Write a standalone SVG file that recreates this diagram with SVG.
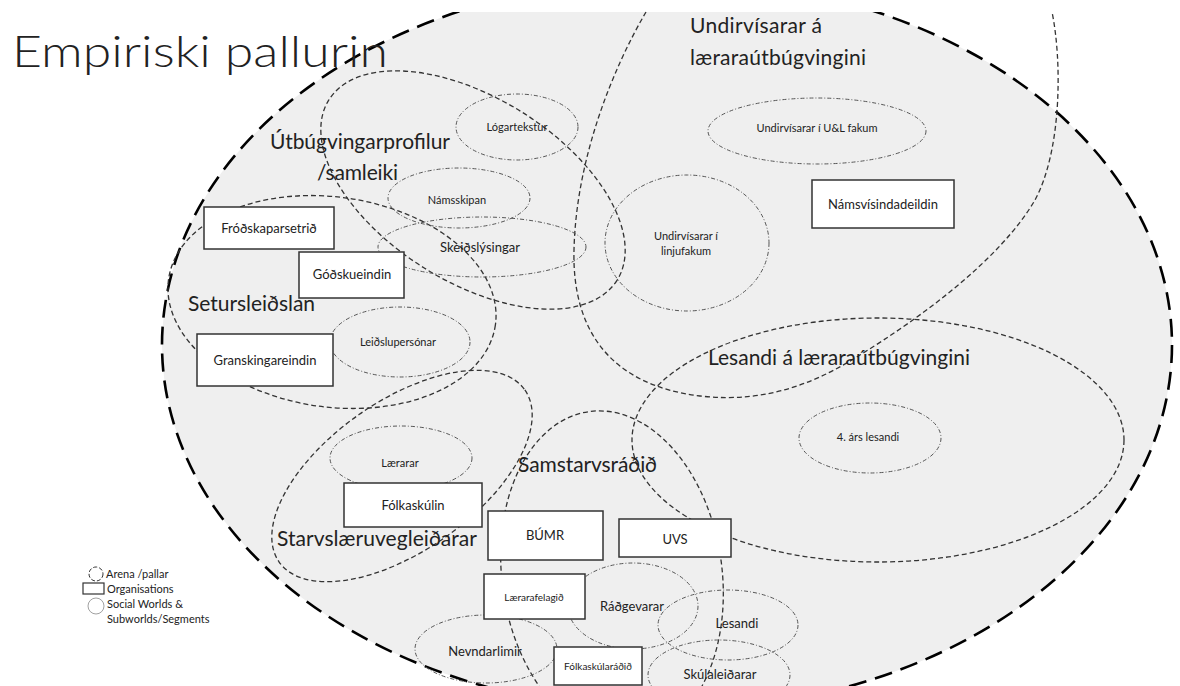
<svg xmlns="http://www.w3.org/2000/svg" width="1180" height="686" viewBox="0 0 1180 686">
<style>
.arena{fill:#efefef;stroke:#000;stroke-width:2.6;stroke-dasharray:18 9}
.world{fill:none;stroke:#333;stroke-width:1.3;stroke-dasharray:5 3}
.sub{fill:none;stroke:#555;stroke-width:1;stroke-dasharray:4 2 1 2}
.org{fill:#fff;stroke:#333;stroke-width:1.5}
text{font-family:Lato,"Open Sans","Liberation Sans",sans-serif;fill:#222}
.big{font-size:21px}
.mid{font-size:13px}
.sm{font-size:11px}
.xs{font-size:10px}
.c{text-anchor:middle}
</style>
<rect width="1180" height="686" fill="#fff"/>
<g id="arena">
<ellipse class="arena" cx="667" cy="345" rx="505" ry="366"/>
<rect x="0" y="0" width="1180" height="12" fill="#fff"/>
</g>
<g id="connectors">
<path id="w-undir" class="world" d="M646 12 C612 70 576 160 574 250 C572 330 610 385 700 396 C770 404 820 380 860 355 C920 318 1000 260 1035 200 C1062 150 1062 60 1052 12"/>
<ellipse id="w-utb" class="world" cx="473" cy="190" rx="170" ry="92" transform="rotate(32 473 190)"/>
<ellipse id="w-setur" class="world" cx="332" cy="302" rx="165" ry="105" transform="rotate(8 332 302)"/>
<ellipse id="w-lesandi" class="world" cx="878" cy="440" rx="246" ry="122"/>
<ellipse id="w-starv" class="world" cx="402" cy="476" rx="150" ry="75" transform="rotate(-35 402 476)"/>
<ellipse id="w-samst" class="world" cx="612" cy="575" rx="110" ry="165" transform="rotate(-8 612 575)"/>
</g>
<g id="sub-logar"><ellipse class="sub" cx="517" cy="127" rx="61" ry="33"/><text class="sm c" x="517" y="131">Lógartekstur</text></g>
<g id="sub-namsskipan"><ellipse class="sub" cx="459" cy="198" rx="71" ry="30"/><text class="sm c" x="457" y="204">Námsskipan</text></g>
<g id="sub-skeid"><ellipse class="sub" cx="482" cy="247" rx="104" ry="30"/><text class="mid c" x="480" y="252">Skeiðslýsingar</text></g>
<g id="sub-leid"><ellipse class="sub" cx="400" cy="342" rx="70" ry="35"/><text class="sm c" x="398" y="346">Leiðslupersónar</text></g>
<g id="sub-ul"><ellipse class="sub" cx="817" cy="131" rx="109" ry="33"/><text class="sm c" x="817" y="132">Undirvísarar í U&amp;L fakum</text></g>
<g id="sub-linju"><ellipse class="sub" cx="687" cy="243" rx="82" ry="68"/><text class="sm c" x="686" y="240">Undirvísarar í</text><text class="sm c" x="686" y="255">linjufakum</text></g>
<g id="sub-4ars"><ellipse class="sub" cx="870" cy="438" rx="71" ry="35"/><text class="sm c" x="868" y="441">4. árs lesandi</text></g>
<g id="sub-laerarar"><ellipse class="sub" cx="401" cy="458" rx="71" ry="32"/><text class="sm c" x="400" y="467">Lærarar</text></g>
<g id="sub-nevnd"><ellipse class="sub" cx="486" cy="649" rx="71" ry="34"/><text class="mid c" x="485" y="656">Nevndarlimir</text></g>
<g id="sub-radg"><ellipse class="sub" cx="633" cy="606" rx="65" ry="43"/><text class="mid c" x="632" y="611">Ráðgevarar</text></g>
<g id="sub-les"><ellipse class="sub" cx="728" cy="625" rx="70" ry="35"/><text class="mid c" x="737" y="628">Lesandi</text></g>
<g id="sub-skul"><ellipse class="sub" cx="719" cy="675" rx="71" ry="35"/><text class="mid c" x="720" y="679">Skúlaleiðarar</text></g>
<g id="org-frod"><rect class="org" x="204" y="207" width="130" height="42"/><text class="mid c" x="269" y="233">Fróðskaparsetrið</text></g>
<g id="org-godsku"><rect class="org" x="299" y="252" width="105" height="46"/><text class="mid c" x="352" y="279">Góðskueindin</text></g>
<g id="org-gransk"><rect class="org" x="197" y="334" width="136" height="52"/><text class="mid c" x="265" y="365">Granskingareindin</text></g>
<g id="org-nams"><rect class="org" x="812" y="180" width="142" height="48"/><text class="mid c" x="883" y="209">Námsvísindadeildin</text></g>
<g id="org-folk"><rect class="org" x="344" y="483" width="138" height="44"/><text class="mid c" x="413" y="510">Fólkaskúlin</text></g>
<g id="org-bumr"><rect class="org" x="488" y="511" width="115" height="49"/><text class="mid c" x="545" y="540">BÚMR</text></g>
<g id="org-uvs"><rect class="org" x="619" y="519" width="112" height="38"/><text class="mid c" x="675" y="544">UVS</text></g>
<g id="org-laerfel"><rect class="org" x="484" y="574" width="101" height="45"/><text class="xs c" x="534" y="601">Lærarafelagið</text></g>
<g id="org-folkrad"><rect class="org" x="554" y="647" width="88" height="38"/><text class="xs c" x="598" y="670">Fólkaskúlaráðið</text></g>
<g id="labels">
<text x="12" y="67" font-size="44" font-weight="300" textLength="376" lengthAdjust="spacingAndGlyphs">Empiriski pallurin</text>
<text class="big" x="690" y="33" textLength="132">Undirvísarar á</text>
<text class="big" x="690" y="65" textLength="176">læraraútbúgvingini</text>
<text class="big" x="270" y="149" textLength="180">Útbúgvingarprofilur</text>
<text class="big" x="317" y="180" textLength="81">/samleiki</text>
<text class="big" x="188" y="311" textLength="127">Setursleiðslan</text>
<text class="big" x="708" y="365" textLength="262">Lesandi á læraraútbúgvingini</text>
<text class="big" x="518" y="472" textLength="139">Samstarvsráðið</text>
<text class="big" x="277" y="546" textLength="200">Starvslæruvegleiðarar</text>
</g>
<g id="legend">
<circle cx="96" cy="574" r="7" fill="none" stroke="#333" stroke-width="1" stroke-dasharray="4 2"/>
<text class="sm" x="106" y="578">Arena /pallar</text>
<rect x="83" y="583" width="21" height="11" fill="#fff" stroke="#333" stroke-width="1.2"/>
<text class="sm" x="107" y="593">Organisations</text>
<circle cx="96" cy="606" r="8" fill="#fff" stroke="#888" stroke-width="0.8"/>
<text class="sm" x="107" y="608">Social Worlds &amp;</text>
<text class="sm" x="107" y="623">Subworlds/Segments</text>
</g>
</svg>
